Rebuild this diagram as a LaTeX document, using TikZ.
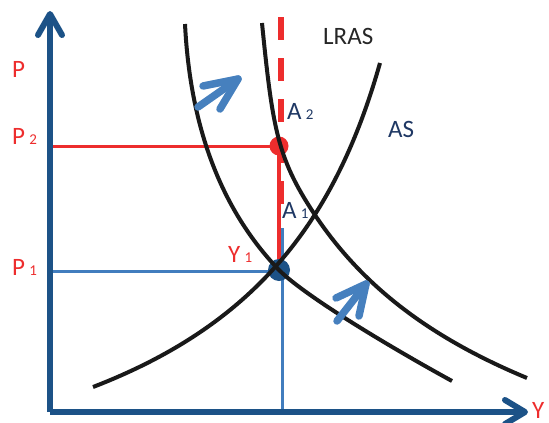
\documentclass[tikz,border=0pt]{standalone}
\usepackage{fontspec}
\setmainfont{Carlito}
\definecolor{axisblue}{RGB}{28,82,135}
\definecolor{lineblue}{RGB}{65,125,190}
\definecolor{arrowblue}{RGB}{70,128,190}
\definecolor{myred}{RGB}{237,45,45}
\definecolor{navy}{RGB}{31,56,100}
\definecolor{curveblack}{RGB}{25,25,25}
\tikzset{
  axisline/.style={draw=axisblue, line width=6pt},
  axistip/.style={draw=axisblue, line width=6pt, line cap=round, line join=round},
  curve/.style={draw=curveblack, line width=4pt},
  shiftarrow/.style={draw=arrowblue, line width=7.5pt, line cap=round, line join=round},
  lbl/.style={inner sep=0pt, anchor=base west, font=\fontsize{25}{25}\selectfont},
}
\newcommand{\subsc}[1]{{\fontsize{15}{15}\selectfont #1}}
\begin{document}
\begin{tikzpicture}[x=1pt,y=-1pt]
\useasboundingbox (0,0) rectangle (549,423);
% coordinates
\coordinate (O) at (50,412);
\coordinate (Ytip) at (50,14);
\coordinate (Xtip) at (525,412);
\coordinate (A2) at (279,146);
\coordinate (P2left) at (53,146);
\coordinate (E1) at (279,270);
\coordinate (P1left) at (53,271);
\coordinate (P1right) at (279,271);
\coordinate (Vtop) at (282,228);
\coordinate (Vbot) at (282,410);
\coordinate (Ltop) at (281,17);
\coordinate (Lbot) at (281,205);
% LRAS dashed
\draw[myred, line width=6pt, dash pattern=on 23pt off 18pt] (Ltop) -- (Lbot);
% guide lines
\draw[lineblue, line width=3pt] (P1left) -- (P1right);
\draw[lineblue, line width=3pt] (Vtop) -- (Vbot);
\draw[myred, line width=3pt] (P2left) -- (A2);
\draw[myred, line width=3.5pt] (A2) -- (E1);
% dots
\fill[myred] (A2) circle (9.5);
\fill[axisblue] (E1) circle (11);
% curves
\draw[curve] (185,24) .. controls (191,144) and (231,220) .. (E1)
             .. controls (307,298) and (399,352) .. (452,381);
\draw[curve] (262,23) .. controls (273,133) and (278,160) .. (317,218)
             .. controls (362,284) and (426,336) .. (527,378);
\draw[curve] (93,387) .. controls (251,326) and (334,226) .. (380,63);
% shift arrows
\coordinate (s1a) at (198,107); \coordinate (s1t) at (238,79);
\draw[shiftarrow] (s1a) -- (s1t);
\draw[shiftarrow] (203,86) -- (s1t) -- (220,109);
\coordinate (s2a) at (337,321); \coordinate (s2t) at (366,284);
\draw[shiftarrow] (s2a) -- (s2t);
\draw[shiftarrow] (336,298) -- (s2t) -- (359,316);
% axes
\draw[axisline] (O) -- (Ytip);
\draw[axisline] (O) -- (Xtip);
\draw[axistip] (38,35) -- (Ytip) -- (62,35);
\draw[axistip] (505,400) -- (Xtip) -- (505,424);
% labels
\node[lbl, text=myred] (lP) at (12,77) {P};
\node[lbl, text=myred] (lP2) at (12,144) {P\,\subsc{2}};
\node[lbl, text=myred] (lP1) at (12,275) {P\,\subsc{1}};
\node[lbl, text=myred] (lY) at (532,418) {Y};
\node[lbl, text=myred] (lY1) at (228,262) {Y\,\subsc{1}};
\node[lbl, text=navy] (lA2) at (287,119) {A\,\subsc{2}};
\node[lbl, text=navy] (lA1) at (282,218) {A\,\subsc{1}};
\node[lbl, text=navy] (lAS) at (388,137) {AS};
\node[lbl, text=black!85] (lLRAS) at (323,44) {LRAS};
\end{tikzpicture}
\end{document}
